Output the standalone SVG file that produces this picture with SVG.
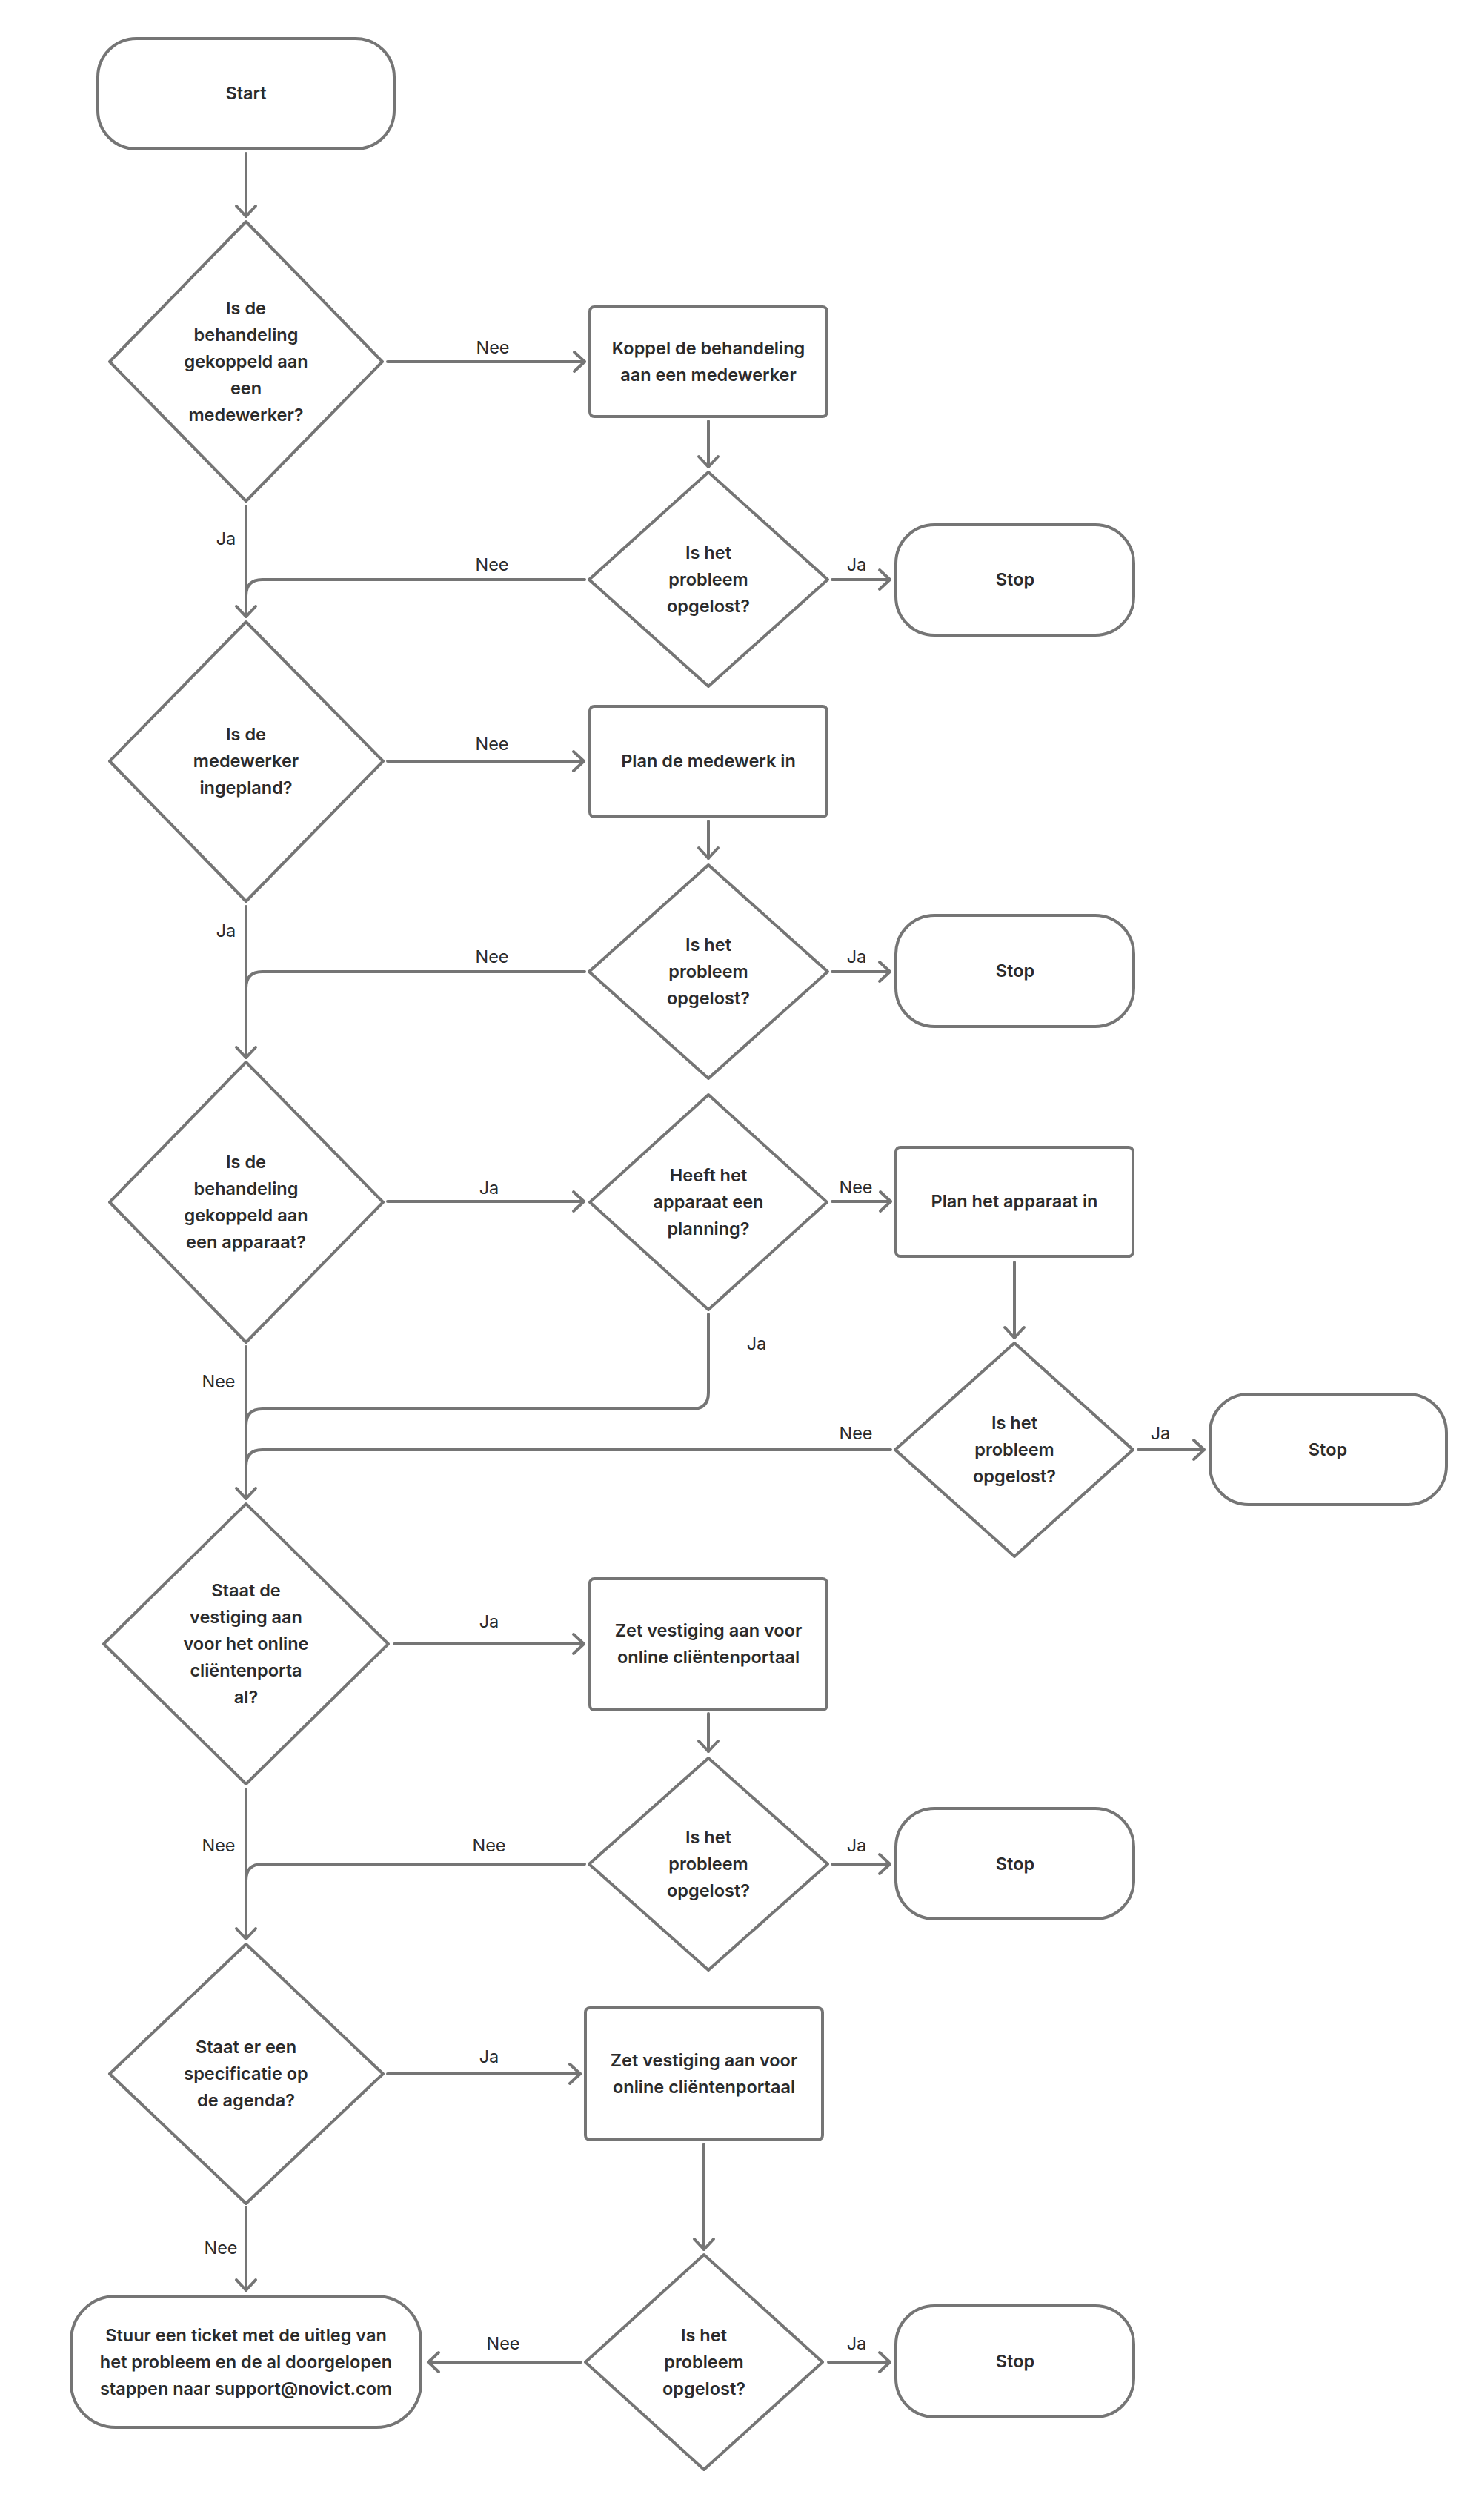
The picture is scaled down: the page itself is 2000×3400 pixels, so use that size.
<svg xmlns="http://www.w3.org/2000/svg" width="2000" height="3400" viewBox="0 0 2000 3400">
<style>
.n{fill:#fff;stroke:#757575;stroke-width:4;stroke-linejoin:round}
.t{font-family:Inter,"Liberation Sans",sans-serif;font-size:23.5px;font-weight:600;fill:#2b2b2b;text-anchor:middle}
.l{font-family:Inter,"Liberation Sans",sans-serif;font-size:23.5px;font-weight:400;fill:#2b2b2b;text-anchor:middle}
.c{fill:none;stroke:#757575;stroke-width:4;stroke-linecap:round;stroke-linejoin:round}
</style>
<defs>
<marker id="a" markerUnits="userSpaceOnUse" viewBox="-20 -20 24 40" markerWidth="24" markerHeight="40" refX="0" refY="0" orient="auto" overflow="visible">
<path d="M-14 -13 L0 0 L-14 13" fill="none" stroke="#757575" stroke-width="4" stroke-linecap="round" stroke-linejoin="round"/>
</marker>
</defs>
<rect width="2000" height="3400" fill="#fff"/>
<g id="connectors">
<path class="c" d="M332 207 V292" marker-end="url(#a)"/>
<path class="c" d="M523 488 H789" marker-end="url(#a)"/>
<path class="c" d="M956 568 V630" marker-end="url(#a)"/>
<path class="c" d="M1123 782 H1201" marker-end="url(#a)"/>
<path class="c" d="M332 683 V832" marker-end="url(#a)"/>
<path class="c" d="M789 782 H354 Q332 782 332 804"/>
<path class="c" d="M523 1027 H788" marker-end="url(#a)"/>
<path class="c" d="M956 1108 V1158" marker-end="url(#a)"/>
<path class="c" d="M1123 1311 H1201" marker-end="url(#a)"/>
<path class="c" d="M332 1223 V1427" marker-end="url(#a)"/>
<path class="c" d="M789 1311 H354 Q332 1311 332 1333"/>
<path class="c" d="M523 1621 H788" marker-end="url(#a)"/>
<path class="c" d="M1123 1621 H1202" marker-end="url(#a)"/>
<path class="c" d="M1369 1703 V1805" marker-end="url(#a)"/>
<path class="c" d="M1536 1956 H1625" marker-end="url(#a)"/>
<path class="c" d="M332 1817 V2022" marker-end="url(#a)"/>
<path class="c" d="M956 1773 V1879 Q956 1901 934 1901 H354 Q332 1901 332 1923"/>
<path class="c" d="M1202 1956 H354 Q332 1956 332 1978"/>
<path class="c" d="M532 2218 H788" marker-end="url(#a)"/>
<path class="c" d="M956 2312 V2363" marker-end="url(#a)"/>
<path class="c" d="M1123 2515 H1201" marker-end="url(#a)"/>
<path class="c" d="M332 2414 V2616" marker-end="url(#a)"/>
<path class="c" d="M789 2515 H354 Q332 2515 332 2537"/>
<path class="c" d="M523 2798 H783" marker-end="url(#a)"/>
<path class="c" d="M950 2893 V3035" marker-end="url(#a)"/>
<path class="c" d="M1118 3187 H1201" marker-end="url(#a)"/>
<path class="c" d="M332 2978 V3090" marker-end="url(#a)"/>
<path class="c" d="M784 3187 H578" marker-end="url(#a)"/>
</g>
<g id="labels">
<text class="l" x="665" y="477">Nee</text>
<text class="l" x="305" y="735">Ja</text>
<text class="l" x="664" y="770">Nee</text>
<text class="l" x="1156" y="770">Ja</text>
<text class="l" x="664" y="1012">Nee</text>
<text class="l" x="305" y="1264">Ja</text>
<text class="l" x="664" y="1299">Nee</text>
<text class="l" x="1156" y="1299">Ja</text>
<text class="l" x="660" y="1611">Ja</text>
<text class="l" x="1155" y="1610">Nee</text>
<text class="l" x="1021" y="1821">Ja</text>
<text class="l" x="295" y="1872">Nee</text>
<text class="l" x="1155" y="1942">Nee</text>
<text class="l" x="1566" y="1942">Ja</text>
<text class="l" x="660" y="2196">Ja</text>
<text class="l" x="295" y="2498">Nee</text>
<text class="l" x="660" y="2498">Nee</text>
<text class="l" x="1156" y="2498">Ja</text>
<text class="l" x="660" y="2783">Ja</text>
<text class="l" x="298" y="3041">Nee</text>
<text class="l" x="679" y="3170">Nee</text>
<text class="l" x="1156" y="3170">Ja</text>
</g>
<g id="start">
<rect class="n" x="132" y="52" width="400" height="149" rx="52"/>
<text class="t" x="332" y="134">Start</text>
</g>
<g id="d1">
<polygon class="n" points="332,299 516,488 332,676 148,488"/>
<text class="t" x="332" y="424">Is de</text>
<text class="t" x="332" y="460">behandeling</text>
<text class="t" x="332" y="496">gekoppeld aan</text>
<text class="t" x="332" y="532">een</text>
<text class="t" x="332" y="568">medewerker?</text>
</g>
<g id="koppel">
<rect class="n" x="796" y="414" width="320" height="148" rx="6"/>
<text class="t" x="956" y="478">Koppel de behandeling</text>
<text class="t" x="956" y="514">aan een medewerker</text>
</g>
<g id="d2">
<polygon class="n" points="956,637 1117,782 956,926 795,782"/>
<text class="t" x="956" y="754">Is het</text>
<text class="t" x="956" y="790">probleem</text>
<text class="t" x="956" y="826">opgelost?</text>
</g>
<g id="stop1">
<rect class="n" x="1209" y="708" width="321" height="149" rx="52"/>
<text class="t" x="1370" y="790">Stop</text>
</g>
<g id="d3">
<polygon class="n" points="332,839 517,1027 332,1216 148,1027"/>
<text class="t" x="332" y="999">Is de</text>
<text class="t" x="332" y="1035">medewerker</text>
<text class="t" x="332" y="1071">ingepland?</text>
</g>
<g id="planmedewerk">
<rect class="n" x="796" y="953" width="320" height="149" rx="6"/>
<text class="t" x="956" y="1035">Plan de medewerk in</text>
</g>
<g id="d4">
<polygon class="n" points="956,1167 1117,1311 956,1455 795,1311"/>
<text class="t" x="956" y="1283">Is het</text>
<text class="t" x="956" y="1319">probleem</text>
<text class="t" x="956" y="1355">opgelost?</text>
</g>
<g id="stop2">
<rect class="n" x="1209" y="1235" width="321" height="150" rx="52"/>
<text class="t" x="1370" y="1318">Stop</text>
</g>
<g id="d5">
<polygon class="n" points="332,1433 517,1622 332,1811 148,1622"/>
<text class="t" x="332" y="1576">Is de</text>
<text class="t" x="332" y="1612">behandeling</text>
<text class="t" x="332" y="1648">gekoppeld aan</text>
<text class="t" x="332" y="1684">een apparaat?</text>
</g>
<g id="heeft">
<polygon class="n" points="956,1477 1116,1622 956,1767 796,1622"/>
<text class="t" x="956" y="1594">Heeft het</text>
<text class="t" x="956" y="1630">apparaat een</text>
<text class="t" x="956" y="1666">planning?</text>
</g>
<g id="planapparaat">
<rect class="n" x="1209" y="1548" width="320" height="147" rx="6"/>
<text class="t" x="1369" y="1629">Plan het apparaat in</text>
</g>
<g id="d7">
<polygon class="n" points="1369,1812 1529,1956 1369,2100 1208,1956"/>
<text class="t" x="1369" y="1928">Is het</text>
<text class="t" x="1369" y="1964">probleem</text>
<text class="t" x="1369" y="2000">opgelost?</text>
</g>
<g id="stop3">
<rect class="n" x="1633" y="1881" width="319" height="149" rx="52"/>
<text class="t" x="1792" y="1964">Stop</text>
</g>
<g id="d8">
<polygon class="n" points="332,2029 524,2218 332,2407 140,2218"/>
<text class="t" x="332" y="2154">Staat de</text>
<text class="t" x="332" y="2190">vestiging aan</text>
<text class="t" x="332" y="2226">voor het online</text>
<text class="t" x="332" y="2262">cliëntenporta</text>
<text class="t" x="332" y="2298">al?</text>
</g>
<g id="zet1">
<rect class="n" x="796" y="2130" width="320" height="177" rx="6"/>
<text class="t" x="956" y="2208">Zet vestiging aan voor</text>
<text class="t" x="956" y="2244">online cliëntenportaal</text>
</g>
<g id="d9">
<polygon class="n" points="956,2372 1117,2515 956,2658 795,2515"/>
<text class="t" x="956" y="2487">Is het</text>
<text class="t" x="956" y="2523">probleem</text>
<text class="t" x="956" y="2559">opgelost?</text>
</g>
<g id="stop4">
<rect class="n" x="1209" y="2440" width="321" height="149" rx="52"/>
<text class="t" x="1370" y="2523">Stop</text>
</g>
<g id="d10">
<polygon class="n" points="332,2623 517,2798 332,2973 148,2798"/>
<text class="t" x="332" y="2770">Staat er een</text>
<text class="t" x="332" y="2806">specificatie op</text>
<text class="t" x="332" y="2842">de agenda?</text>
</g>
<g id="zet2">
<rect class="n" x="790" y="2709" width="320" height="178" rx="6"/>
<text class="t" x="950" y="2788">Zet vestiging aan voor</text>
<text class="t" x="950" y="2824">online cliëntenportaal</text>
</g>
<g id="d11">
<polygon class="n" points="950,3042 1110,3187 950,3332 790,3187"/>
<text class="t" x="950" y="3159">Is het</text>
<text class="t" x="950" y="3195">probleem</text>
<text class="t" x="950" y="3231">opgelost?</text>
</g>
<g id="stop5">
<rect class="n" x="1209" y="3111" width="321" height="150" rx="52"/>
<text class="t" x="1370" y="3194">Stop</text>
</g>
<g id="ticket">
<rect class="n" x="96" y="3098" width="472" height="177" rx="60"/>
<text class="t" x="332" y="3159">Stuur een ticket met de uitleg van</text>
<text class="t" x="332" y="3195">het probleem en de al doorgelopen</text>
<text class="t" x="332" y="3231">stappen naar support@novict.com</text>
</g>
</svg>
